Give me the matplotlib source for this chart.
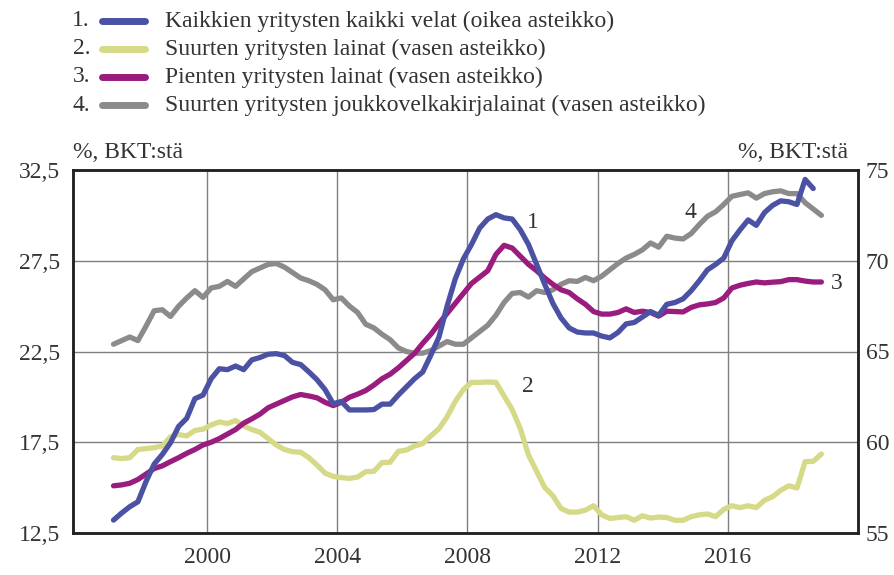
import numpy as np
import matplotlib
matplotlib.use("Agg")
import matplotlib.pyplot as plt
from matplotlib.lines import Line2D

# Quarterly data, 1997Q1 ->
start_year = 1997

# 1. All corporate debt (right axis, % of GDP)
all_debt = [55.71, 56.10, 56.45, 56.72, 57.84, 58.80, 59.33, 59.97, 60.87, 61.32,
            62.40, 62.60, 63.50, 64.05, 64.00, 64.20, 64.00, 64.54, 64.67, 64.85,
            64.88, 64.78, 64.40, 64.28, 63.88, 63.45, 62.90, 62.12, 62.25, 61.78,
            61.78, 61.78, 61.80, 62.10, 62.10, 62.60, 63.05, 63.50, 63.87, 64.80,
            65.80, 67.50, 69.00, 70.10, 70.90, 71.80, 72.30, 72.54, 72.36, 72.30,
            71.70, 70.90, 69.80, 68.70, 67.65, 66.85, 66.30, 66.07, 66.02, 66.02,
            65.85, 65.75, 66.05, 66.52, 66.60, 66.90, 67.20, 67.00, 67.60, 67.70,
            67.90, 68.35, 68.90, 69.50, 69.80, 70.15, 71.10, 71.70, 72.25, 71.95,
            72.65, 73.05, 73.30, 73.25, 73.10, 74.48, 73.98]

# 2. Large companies' loans (left axis)
large_loans = [16.65, 16.60, 16.65, 17.10, 17.15, 17.20, 17.30, 17.80, 17.92, 17.85,
               18.15, 18.22, 18.45, 18.62, 18.53, 18.70, 18.40, 18.20, 18.05, 17.70,
               17.35, 17.10, 16.98, 16.95, 16.65, 16.25, 15.80, 15.62, 15.55, 15.51,
               15.58, 15.88, 15.90, 16.38, 16.40, 17.00, 17.07, 17.30, 17.42, 17.85,
               18.25, 18.90, 19.75, 20.40, 20.80, 20.80, 20.82, 20.80, 20.05, 19.30,
               18.25, 16.80, 15.90, 15.00, 14.55, 13.85, 13.65, 13.65, 13.76, 14.00,
               13.50, 13.30, 13.35, 13.40, 13.20, 13.45, 13.32, 13.38, 13.35, 13.20,
               13.20, 13.40, 13.50, 13.55, 13.40, 13.80, 14.00, 13.90, 14.00, 13.90,
               14.30, 14.50, 14.85, 15.10, 14.98, 16.43, 16.45, 16.85]

# 3. Small companies' loans (left axis)
small_loans = [15.10, 15.15, 15.24, 15.45, 15.75, 16.05, 16.20, 16.43, 16.65, 16.89,
               17.10, 17.35, 17.50, 17.70, 17.95, 18.20, 18.55, 18.79, 19.05, 19.40,
               19.60, 19.80, 20.00, 20.13, 20.05, 19.95, 19.70, 19.52, 19.70, 19.98,
               20.15, 20.35, 20.65, 21.00, 21.25, 21.60, 22.00, 22.40, 22.95, 23.45,
               24.05, 24.60, 25.15, 25.70, 26.25, 26.60, 26.95, 27.85, 28.35, 28.20,
               27.75, 27.30, 26.95, 26.55, 26.20, 25.90, 25.75, 25.40, 25.10, 24.70,
               24.56, 24.56, 24.65, 24.85, 24.65, 24.72, 24.65, 24.45, 24.72, 24.70,
               24.68, 24.93, 25.07, 25.12, 25.20, 25.45, 26.00, 26.15, 26.25, 26.33,
               26.28, 26.32, 26.35, 26.46, 26.46, 26.38, 26.33, 26.33]

# 4. Large companies' bond loans (left axis)
bond_loans = [22.90, 23.10, 23.30, 23.10, 23.90, 24.75, 24.80, 24.43, 25.00, 25.45,
              25.85, 25.48, 26.00, 26.09, 26.36, 26.09, 26.50, 26.90, 27.10, 27.30,
              27.35, 27.15, 26.85, 26.55, 26.40, 26.20, 25.90, 25.35, 25.45, 25.00,
              24.65, 24.00, 23.80, 23.45, 23.15, 22.70, 22.50, 22.40, 22.41, 22.55,
              22.80, 23.05, 22.90, 22.90, 23.25, 23.60, 23.95, 24.50, 25.20, 25.70,
              25.75, 25.50, 25.85, 25.75, 25.90, 26.20, 26.40, 26.36, 26.58, 26.40,
              26.65, 27.00, 27.35, 27.65, 27.85, 28.10, 28.48, 28.25, 28.85, 28.75,
              28.70, 29.00, 29.50, 29.95, 30.20, 30.60, 31.05, 31.15, 31.24, 30.95,
              31.20, 31.30, 31.35, 31.20, 31.20, 30.70, 30.35, 30.00]

legend_labels = ["Kaikkien yritysten kaikki velat (oikea asteikko)",
                 "Suurten yritysten lainat (vasen asteikko)",
                 "Pienten yritysten lainat (vasen asteikko)",
                 "Suurten yritysten joukkovelkakirjalainat (vasen asteikko)"]
left_ticks = [12.5, 17.5, 22.5, 27.5, 32.5]
left_tick_labels = ["12,5", "17,5", "22,5", "27,5", "32,5"]
right_ticks = [55, 60, 65, 70, 75]
x_ticks = [2000, 2004, 2008, 2012, 2016]
axis_unit = "%, BKT:stä"

c_blue = "#4b52a4"
c_yellow = "#d6da88"
c_purple = "#9a1c7e"
c_gray = "#8b8b8b"
colors = [c_blue, c_yellow, c_purple, c_gray]

plt.rcParams["font.family"] = ["Liberation Serif", "DejaVu Serif"]
txt_color = "#333333"
fs = 17

def qx(n):
    return start_year + (np.arange(n) + 0.5) / 4.0

fig = plt.figure(figsize=(8.94, 5.75), dpi=100)
ax = fig.add_axes([73/894, 1 - 533/575, (858-73)/894, (533-170)/575])
ax2 = ax.twinx()

lw = 3.8
ax.plot(qx(len(bond_loans)), bond_loans, color=c_gray, lw=lw, solid_capstyle="round", solid_joinstyle="round", zorder=3)
ax.plot(qx(len(large_loans)), large_loans, color=c_yellow, lw=lw, solid_capstyle="round", solid_joinstyle="round", zorder=3)
ax.plot(qx(len(small_loans)), small_loans, color=c_purple, lw=lw, solid_capstyle="round", solid_joinstyle="round", zorder=4)
ax2.plot(qx(len(all_debt)), all_debt, color=c_blue, lw=lw, solid_capstyle="round", solid_joinstyle="round", zorder=5)

xmin, xmax = 1995.88, 2020.0
for a in (ax, ax2):
    a.set_xlim(xmin, xmax)
ax.set_ylim(12.5, 32.5)
ax2.set_ylim(55, 75)

ax.set_xticks(x_ticks)
ax.set_xticklabels([str(t) for t in x_ticks])
ax.set_yticks(left_ticks)
ax.set_yticklabels(left_tick_labels)
ax2.set_yticks(right_ticks)
ax2.set_yticklabels([str(t) for t in right_ticks])

ax.grid(True, color="#7f7f7f", lw=1.0)
ax.set_axisbelow(True)
ax.tick_params(axis="both", length=0, labelsize=fs, colors=txt_color)
ax.tick_params(axis="y", pad=9.5)
ax.tick_params(axis="x", pad=10)
ax2.tick_params(axis="y", length=0, labelsize=fs, colors=txt_color, pad=5.5)
for a in (ax, ax2):
    for s in a.spines.values():
        s.set_color("#222222")
        s.set_linewidth(1.8)

# axis unit labels
fig.text(73/894, 1 - 152/575, axis_unit, fontsize=fs, color=txt_color, ha="left", va="center")
fig.text(848/894, 1 - 152/575, axis_unit, fontsize=fs, color=txt_color, ha="right", va="center")

# series number annotations
ax.text(2010.0, 29.6, "1", fontsize=fs, color=txt_color, ha="center", va="center")
ax.text(2009.85, 20.55, "2", fontsize=fs, color=txt_color, ha="center", va="center")
ax.text(2019.35, 26.24, "3", fontsize=fs, color=txt_color, ha="center", va="center")
ax.text(2014.84, 30.15, "4", fontsize=fs, color=txt_color, ha="center", va="center")

# legend
row_y = [21, 49, 77, 105]
for k, (lab, col) in enumerate(zip(legend_labels, colors)):
    yy = 1 - row_y[k]/575
    fig.text(90/894, yy, f"{k+1}.", fontsize=fs, color=txt_color, ha="right", va="center")
    fig.add_artist(Line2D([102/894, 145/894], [yy, yy], transform=fig.transFigure,
                          color=col, lw=5, solid_capstyle="round"))
    fig.text(165/894, yy, lab, fontsize=fs, color=txt_color, ha="left", va="center")

fig.savefig("out.png", dpi=100)
